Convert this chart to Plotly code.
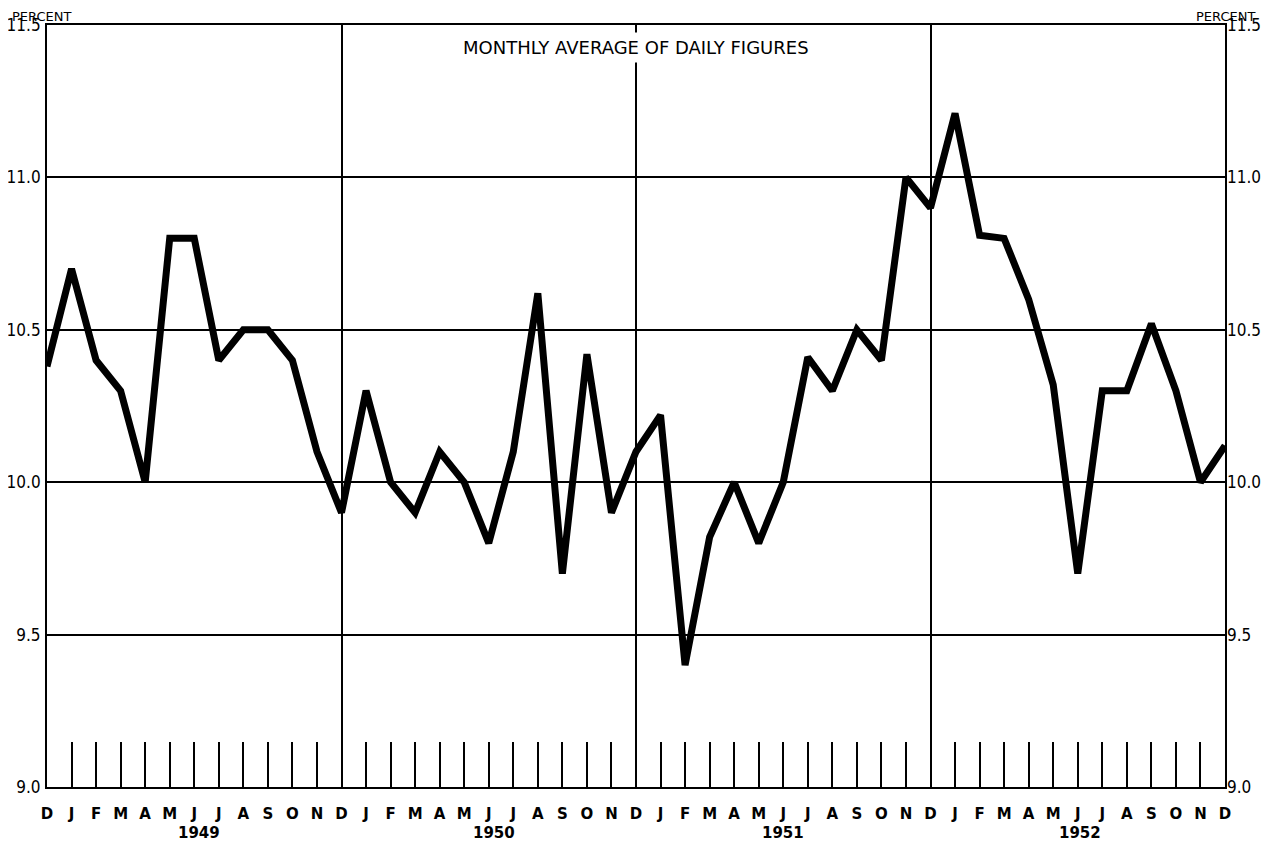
import plotly.graph_objects as go

# Month letters from Dec 1948 through Dec 1952
months = ["D", "J", "F", "M", "A", "M", "J", "J", "A", "S", "O", "N"] * 4 + ["D"]
years = ["1949", "1950", "1951", "1952"]
year_pos = [6.2, 18.2, 30, 42.1]  # around June of each year
dec_lines = [12, 24, 36]

values = [
    10.38,                                                       # D 1948
    10.7, 10.4, 10.3, 10.0, 10.8, 10.8, 10.4, 10.5, 10.5, 10.4, 10.1, 9.9,   # 1949
    10.3, 10.0, 9.9, 10.1, 10.0, 9.8, 10.1, 10.62, 9.7, 10.42, 9.9, 10.1,   # 1950
    10.22, 9.4, 9.82, 10.0, 9.8, 10.0, 10.41, 10.3, 10.5, 10.4, 11.0, 10.9,  # 1951
    11.21, 10.81, 10.8, 10.6, 10.32, 9.7, 10.3, 10.3, 10.52, 10.3, 10.0, 10.12,  # 1952
]
x_idx = list(range(len(values)))

y_ticks = [9.0, 9.5, 10.0, 10.5, 11.0, 11.5]
y_text = ["9.0", "9.5", "10.0", "10.5", "11.0", "11.5"]

fig = go.Figure()
fig.add_trace(go.Scatter(x=x_idx, y=values, mode="lines",
                         line=dict(color="black", width=7),
                         hoverinfo="skip", showlegend=False))
# invisible trace to activate secondary axes
fig.add_trace(go.Scatter(x=x_idx, y=values, mode="lines", xaxis="x2", yaxis="y2",
                         line=dict(color="rgba(0,0,0,0)", width=0),
                         hoverinfo="skip", showlegend=False))

tick_font = dict(family="DejaVu Sans Condensed, Liberation Sans Narrow, Liberation Sans",
                 size=17, color="black")
month_font = dict(family="DejaVu Sans", size=15, color="black", weight="bold")

fig.update_layout(
    width=1259, height=838,
    margin=dict(l=39, r=42, t=17, b=59),
    paper_bgcolor="white", plot_bgcolor="white",
    xaxis=dict(range=[0, 48], tickmode="array", tickvals=x_idx, ticktext=months,
               ticks="inside", ticklen=45, tickwidth=1.5, tickcolor="black",
               showgrid=False, zeroline=False, showline=True, linecolor="black",
               linewidth=2, mirror=True, tickfont=month_font, ticklabelstandoff=12,
               automargin=False),
    xaxis2=dict(range=[0, 48], overlaying="x", tickmode="array", tickvals=dec_lines,
                showgrid=True, gridcolor="black", gridwidth=2, showticklabels=False,
                ticks="", zeroline=False, showline=False, automargin=False),
    yaxis=dict(range=[9.0, 11.5], tickmode="array", tickvals=y_ticks, ticktext=y_text,
               showgrid=True, gridcolor="black", gridwidth=1.5, zeroline=False,
               showline=True, linecolor="black", linewidth=2, mirror=True,
               ticks="", tickfont=tick_font, ticklabelstandoff=1, automargin=False),
    yaxis2=dict(range=[9.0, 11.5], overlaying="y", side="right", tickmode="array",
                tickvals=y_ticks, ticktext=y_text, showgrid=False, zeroline=False,
                showline=False, ticks="", tickfont=tick_font, ticklabelstandoff=1,
                automargin=False),
)

for yr, pos in zip(years, year_pos):
    fig.add_annotation(x=pos, y=-0.06, xref="x", yref="paper", text=yr,
                       showarrow=False, yanchor="middle",
                       font=dict(family="DejaVu Sans", size=15, color="black", weight="bold"))

fig.add_annotation(x=24, y=0.970, xref="x", yref="paper",
                   text="MONTHLY AVERAGE OF DAILY FIGURES", showarrow=False,
                   yanchor="middle", bgcolor="white", borderpad=4,
                   font=dict(family="DejaVu Sans", size=18, color="black"))
fig.add_annotation(x=-0.031, y=1.0118, xref="paper", yref="paper", text="PERCENT",
                   showarrow=False, xanchor="left", yanchor="middle",
                   font=dict(family="DejaVu Sans", size=13, color="black"))
fig.add_annotation(x=1.027, y=1.0118, xref="paper", yref="paper", text="PERCENT",
                   showarrow=False, xanchor="right", yanchor="middle",
                   font=dict(family="DejaVu Sans", size=13, color="black"))

fig.write_html("out.html")
